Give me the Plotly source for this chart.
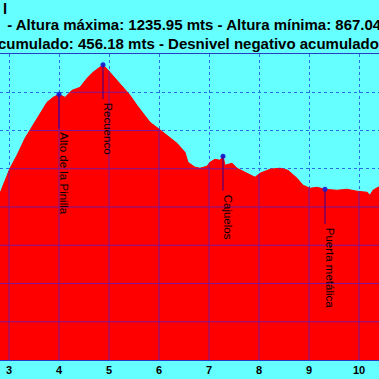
import numpy as np
import plotly.graph_objects as go

# ---- data ----
DIST_KM = [2.70, 2.82, 3.02, 3.16, 3.32, 3.48, 3.62, 3.76, 3.88, 4.00, 4.12, 4.26, 4.42, 4.56,
           4.68, 4.82, 4.88, 5.02, 5.16, 5.28, 5.42, 5.56, 5.68, 5.82, 5.98, 6.16, 6.36,
           6.52, 6.58, 6.72, 6.82, 6.96, 7.02, 7.12, 7.22, 7.28, 7.32, 7.46, 7.56, 7.76,
           7.92, 8.02, 8.22, 8.42, 8.58, 8.76, 8.88, 9.02, 9.16, 9.32, 9.56, 9.76, 9.96,
           10.16, 10.22, 10.28, 10.38, 10.52]
ELEV_M = [1050.0, 1068.0, 1100.7, 1117.6, 1139.8, 1156.8, 1172.5, 1186.8, 1193.3, 1197.3,
          1193.3, 1202.5, 1206.4, 1218.2, 1226.0, 1233.8, 1235.95, 1226.0, 1215.5, 1205.1,
          1196.0, 1182.9, 1172.5, 1160.7, 1152.9, 1143.7, 1133.3, 1121.5, 1108.5, 1102.0,
          1100.7, 1103.3, 1108.5, 1112.4, 1111.1, 1116.4, 1104.6, 1107.2, 1100.7, 1094.1,
          1088.9, 1094.1, 1099.4, 1100.7, 1098.0, 1087.6, 1078.5, 1074.5, 1075.8, 1073.2,
          1071.9, 1073.2, 1070.6, 1069.3, 1065.4, 1071.9, 1075.8, 1078.5]

MARK_NAMES = ["Alto de la Pinilla", "Recuenco", "Cajuelos", "Puerta metálica"]
MARK_DIST = [4.00, 4.88, 7.28, 9.32]

X_TICKS = [3, 4, 5, 6, 7, 8, 9, 10]
X_TICK_TEXT = ["3", "4", "5", "6", "7", "8", "9", "10"]
Y_TICKS = [900, 950, 1000, 1050, 1100, 1150, 1200]

TITLE_LINES = ["l",
               " - Altura máxima: 1235.95 mts - Altura mínima: 867.04",
               "cumulado: 456.18 mts - Desnivel negativo acumulado"]

X_RANGE = [2.82, 10.40]
Y_RANGE = [850, 1250]

# ---- styles ----
BG = "rgb(102,255,255)"
RED = "rgb(255,0,0)"
GRID = "rgb(40,110,225)"
INNER = "rgb(125,20,150)"
MARKLINE = "rgb(50,0,140)"
FONT = "Liberation Sans, Arial, sans-serif"

mark_elev = list(np.interp(MARK_DIST, DIST_KM, ELEV_M))

fig = go.Figure()
fig.add_trace(go.Scatter(x=DIST_KM, y=ELEV_M, mode="lines", line=dict(color=RED, width=1),
                         fill="tozeroy", fillcolor=RED, hoverinfo="skip"))

# grid lines visible through the filled area
xs = np.linspace(X_RANGE[0], X_RANGE[1], 3000)
ys = np.interp(xs, DIST_KM, ELEV_M)
gx, gy = [], []
for lvl in Y_TICKS:
    seg = np.where(ys > lvl + 0.5, float(lvl), np.nan)
    gx += list(xs) + [None]
    gy += [None if np.isnan(v) else v for v in seg] + [None]
for t in X_TICKS:
    gx += [t, t, None]
    gy += [Y_RANGE[0], float(np.interp(t, DIST_KM, ELEV_M)), None]
fig.add_trace(go.Scatter(x=gx, y=gy, mode="lines", line=dict(color=INNER, width=1),
                         hoverinfo="skip", connectgaps=False))

fig.add_trace(go.Scatter(x=MARK_DIST, y=mark_elev, mode="markers",
                         marker=dict(color="rgb(30,40,210)", size=5), hoverinfo="skip"))

for name, mx, my in zip(MARK_NAMES, MARK_DIST, mark_elev):
    fig.add_annotation(x=mx, y=my, text="", showarrow=True, arrowhead=0, arrowwidth=1,
                       arrowcolor=MARKLINE, ax=0, ay=36)
    fig.add_annotation(x=mx, y=my, text=name, showarrow=False, textangle=90,
                       xanchor="left", yanchor="top", yshift=-36, xshift=-3,
                       font=dict(family=FONT, size=11.5, color="black"))

for txt, py, px in zip(TITLE_LINES, [8, 25, 44], [1, 1, -4]):
    fig.add_annotation(xref="paper", yref="paper", x=px / 379, y=(360 - py) / 306,
                       text=txt, showarrow=False, xanchor="left", yanchor="middle",
                       font=dict(family=FONT, size=15, color="black", weight="bold"))

fig.update_layout(
    width=379, height=379,
    margin=dict(l=0, r=0, t=54, b=19),
    paper_bgcolor=BG, plot_bgcolor=BG,
    showlegend=False,
    xaxis=dict(range=X_RANGE, tickvals=X_TICKS, ticktext=X_TICK_TEXT,
               showgrid=True, gridcolor=GRID, griddash="dot", gridwidth=1,
               showline=True, linecolor="rgb(40,60,200)", mirror=True, zeroline=False,
               ticks="", ticklen=0, automargin=False,
               tickfont=dict(family=FONT, size=11, color="black", weight="bold")),
    yaxis=dict(range=Y_RANGE, tickvals=Y_TICKS, showticklabels=False, automargin=False,
               showgrid=True, gridcolor=GRID, griddash="dot", gridwidth=1,
               showline=False, zeroline=False, ticks=""),
)

fig.write_html("out.html", config={"displayModeBar": False},
               post_script="document.body.style.margin='0';document.body.style.overflow='hidden';")
